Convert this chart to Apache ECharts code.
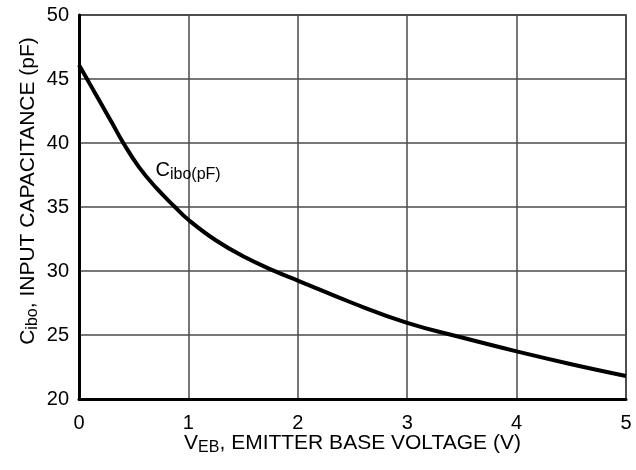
<!DOCTYPE html>
<html>
<head>
<meta charset="utf-8">
<script src="https://cdn.jsdelivr.net/npm/echarts@6/dist/echarts.min.js"></script>
<style>
  html, body { margin: 0; padding: 0; background: #fff; }
  #chart { width: 636px; height: 470px; }
</style>
</head>
<body>
<div id="chart"></div>
<script>
// Emitter-base voltage (V) and input capacitance Cibo (pF)
const voltage = [0, 0.1, 0.2, 0.3, 0.405, 0.55, 0.7, 0.877, 1.0, 1.25, 1.5, 1.8, 2.0, 2.5, 3.0, 3.5, 4.0, 4.5, 5.0];
const capacitance = [46.1, 44.6, 43.1, 41.6, 40.0, 38.1, 36.55, 35.0, 34.0, 32.4, 31.15, 29.95, 29.25, 27.5, 25.95, 24.8, 23.72, 22.72, 21.8];
const xTicks = [0, 1, 2, 3, 4, 5];
const yTicks = [20, 25, 30, 35, 40, 45, 50];

const FONT = '"Liberation Sans", Arial, Helvetica, sans-serif';
const chart = echarts.init(document.getElementById('chart'), null, { renderer: 'canvas' });

const curve = voltage.map((v, i) => [v, capacitance[i]]);

// main text + lowered subscript
const richSub = (main, sub, shift) => ({
  n: { fontSize: main, fontFamily: FONT, color: '#000', lineHeight: 24 },
  s: { fontSize: sub, fontFamily: FONT, color: '#000', lineHeight: 24, padding: [shift, 0, 0, 0] }
});

chart.setOption({
  animation: false,
  backgroundColor: '#fff',
  grid: {
    left: 79, right: 10, top: 15, bottom: 71,
    outerBoundsMode: 'none',
    containLabel: false,
    show: true, borderColor: '#222', borderWidth: 1.5, backgroundColor: 'transparent'
  },
  xAxis: {
    type: 'value',
    min: xTicks[0], max: xTicks[xTicks.length - 1], interval: 1,
    axisLine: { show: true, onZero: false, lineStyle: { color: '#000', width: 3 } },
    axisTick: { show: false },
    splitLine: { show: true, lineStyle: { color: '#4a4a4a', width: 1.5 } },
    axisLabel: { color: '#000', fontSize: 20, fontFamily: FONT, margin: 14 },
    name: '{n|V}{s|EB}{n|, EMITTER BASE VOLTAGE (V)}',
    nameLocation: 'middle',
    nameMoveOverlap: false,
    nameGap: 32,
    nameTextStyle: {
      color: '#000', fontFamily: FONT, fontSize: 21,
      rich: richSub(21, 16, 10)
    }
  },
  yAxis: {
    type: 'value',
    min: yTicks[0], max: yTicks[yTicks.length - 1], interval: 5,
    axisLine: { show: true, onZero: false, lineStyle: { color: '#000', width: 3 } },
    axisTick: { show: false },
    splitLine: { show: true, lineStyle: { color: '#4a4a4a', width: 1.5 } },
    axisLabel: { color: '#000', fontSize: 20, fontFamily: FONT, margin: 10 },
    name: '{n|C}{s|ibo}{n|, INPUT CAPACITANCE (pF)}',
    nameLocation: 'middle',
    nameMoveOverlap: false,
    nameRotate: 90,
    nameGap: 39,
    nameTextStyle: {
      color: '#000', fontFamily: FONT, fontSize: 21,
      padding: [0, 0, 0, 32],
      rich: richSub(21, 16, 10)
    }
  },
  series: [{
    type: 'line',
    data: curve,
    smooth: 0.45,
    showSymbol: false,
    lineStyle: { color: '#000', width: 4 },
    markPoint: {
      symbol: 'circle',
      symbolSize: 0,
      silent: true,
      data: [{ coord: [0.70, 37.85] }],
      label: {
        show: true,
        position: 'right',
        distance: 0,
        formatter: '{n|C}{s|ibo(pF)}',
        rich: richSub(20, 16, 9)
      }
    }
  }]
});
</script>
</body>
</html>
